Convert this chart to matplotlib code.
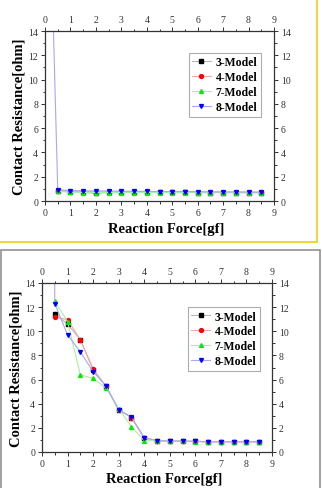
import matplotlib
matplotlib.use("Agg")
import matplotlib.pyplot as plt
from matplotlib.patches import Rectangle
from matplotlib.ticker import MultipleLocator

plt.rcParams['font.family'] = ['Liberation Serif', 'DejaVu Serif']

series_names = ["3-Model", "4-Model", "7-Model", "8-Model"]

# Top panel
top_x = [0.5, 1.0, 1.5, 2.0, 2.5, 3.0, 3.5, 4.0, 4.5, 5.0, 5.5, 6.0, 6.5, 7.0, 7.5, 8.0, 8.5]
top_3 = [0.85, 0.75, 0.72, 0.62, 0.72, 0.72, 0.72, 0.72, 0.72, 0.72, 0.72, 0.70, 0.70, 0.70, 0.70, 0.70, 0.70]
top_4 = [0.85, 0.80, 0.78, 0.75, 0.75, 0.75, 0.75, 0.75, 0.74, 0.74, 0.74, 0.73, 0.72, 0.72, 0.72, 0.72, 0.72]
top_7 = [0.80, 0.72, 0.70, 0.70, 0.70, 0.70, 0.70, 0.70, 0.70, 0.70, 0.70, 0.68, 0.68, 0.68, 0.68, 0.66, 0.66]
top_8_x = [0.0] + top_x
top_8 = [40.0, 0.93, 0.86, 0.84, 0.82, 0.82, 0.80, 0.80, 0.79, 0.78, 0.78, 0.78, 0.77, 0.76, 0.75, 0.75, 0.74, 0.73]

# Bottom panel
bot_x = [0.5, 1.0, 1.5, 2.0, 2.5, 3.0, 3.5, 4.0, 4.5, 5.0, 5.5, 6.0, 6.5, 7.0, 7.5, 8.0, 8.5]
bot_3 = [11.45, 10.6, 9.3, 6.8, 5.45, 3.5, 2.85, 1.15, 0.95, 0.9, 0.9, 0.88, 0.85, 0.85, 0.85, 0.85, 0.85]
bot_4 = [11.2, 10.95, 9.3, 6.9, 5.45, 3.5, 2.85, 1.15, 0.95, 0.9, 0.9, 0.88, 0.85, 0.85, 0.85, 0.85, 0.85]
bot_7 = [12.5, 10.8, 6.4, 6.1, 5.3, 3.6, 2.1, 0.95, 0.92, 0.9, 0.88, 0.86, 0.85, 0.85, 0.85, 0.85, 0.85]
bot_8_x = [0.47] + bot_x
bot_8 = [40.0, 12.3, 9.7, 8.3, 6.65, 5.5, 3.5, 2.9, 1.2, 0.95, 0.9, 0.9, 0.88, 0.85, 0.85, 0.85, 0.85, 0.85]

line_cols = ["#b8b8b8", "#f4a8a8", "#a8f0a8", "#a8a8f4"]
mark_cols = ["#000000", "#ff0000", "#00ee00", "#0000ff"]
markers = ["s", "o", "^", "v"]

fig = plt.figure(figsize=(3.22, 4.89), dpi=100)

# Frames
fig.patches.append(Rectangle((-0.05, 1 - 243/489), 317/322 + 0.05, 243/489 + 0.05,
                             transform=fig.transFigure, fill=False, edgecolor="#f2d446", lw=1.5))
fig.patches.append(Rectangle((1/322, -0.05), 320/322 - 1/322, 1 - 251/489 + 0.05,
                             transform=fig.transFigure, fill=False, edgecolor="#909090", lw=1.2))

ax1 = fig.add_axes([45/322, 1 - 202/489, 229/322, 170/489])
ax2 = fig.add_axes([42/322, 1 - 453/489, 230/322, 169/489])


def draw(ax, xs, ys_list, anchor, xlab_pos):
    for x, y, name, lc, mc, mk in zip(xs, ys_list, series_names, line_cols, mark_cols, markers):
        ax.plot(x, y, color=lc, lw=0.8, marker=mk, markersize=2.8,
                markerfacecolor=mc, markeredgecolor=mc, label=name)
    ax.set_xlim(0, 9)
    ax.set_ylim(0, 14)
    ax.xaxis.set_major_locator(MultipleLocator(1))
    ax.xaxis.set_minor_locator(MultipleLocator(0.5))
    ax.yaxis.set_major_locator(MultipleLocator(2))
    ax.yaxis.set_minor_locator(MultipleLocator(1))
    ax.tick_params(which='both', direction='out', top=True, right=True,
                   labeltop=True, labelright=True, labelsize=7, colors='#333333', width=0.7)
    ax.tick_params(which='major', length=3, pad=2)
    ax.tick_params(which='minor', length=1.8)
    for s in ax.spines.values():
        s.set_linewidth(0.9)
        s.set_color('#333333')
    ax.set_xlabel("Reaction Force[gf]", fontsize=10.5, fontweight='bold')
    ax.xaxis.set_label_coords(*xlab_pos)
    ax.set_ylabel("Contact Resistance[ohm]", fontsize=10.5, fontweight='bold', labelpad=2)
    leg = ax.legend(loc='upper right', bbox_to_anchor=anchor,
                    prop={'weight': 'bold', 'size': 8.5}, frameon=True, fancybox=False,
                    edgecolor='#999999', handlelength=1.6, borderpad=0.3, borderaxespad=0,
                    labelspacing=0.25, handletextpad=0.4)
    leg.get_frame().set_linewidth(0.8)


draw(ax1, [top_x, top_x, top_x, top_8_x], [top_3, top_4, top_7, top_8],
     (0.943, 0.871), (0.53, -0.125))
draw(ax2, [bot_x, bot_x, bot_x, bot_8_x], [bot_3, bot_4, bot_7, bot_8],
     (0.948, 0.858), (0.53, -0.12))

fig.savefig("out.png", dpi=100)
